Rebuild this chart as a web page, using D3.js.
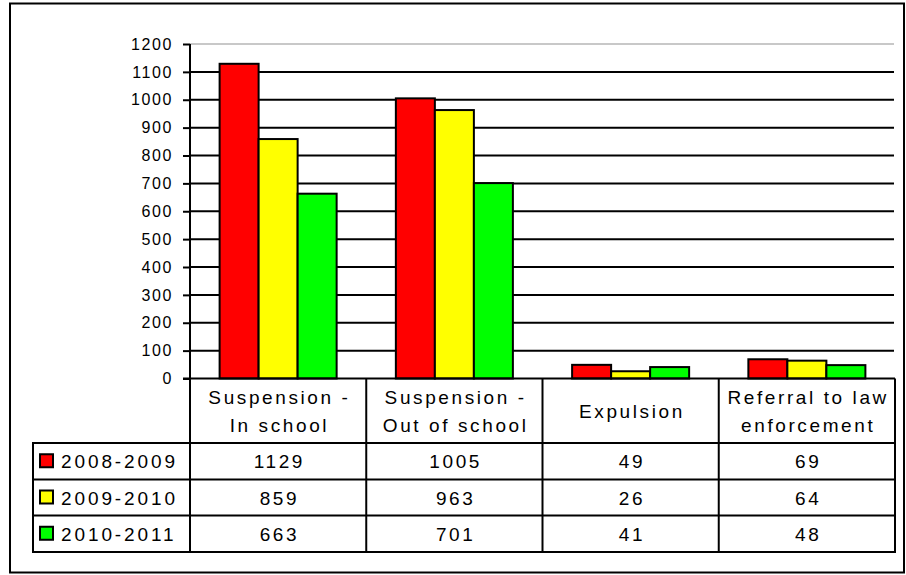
<!DOCTYPE html>
<html>
<head>
<meta charset="utf-8">
<script src="https://cdn.jsdelivr.net/npm/d3@7"></script>
<style>
  html, body { margin: 0; padding: 0; background: #fff; }
  svg { display: block; }
  text { font-family: "Liberation Sans", Arial, sans-serif; fill: #000; }
</style>
</head>
<body>
<div id="chart"></div>
<script>
// ---- data ----
const categories = [
  ["Suspension -", "In school"],
  ["Suspension -", "Out of school"],
  ["Expulsion"],
  ["Referral to law", "enforcement"]
];
const seriesNames = ["2008-2009", "2009-2010", "2010-2011"];
const seriesColors = ["#ff0000", "#ffff00", "#00ff00"];
const values2008 = [1129, 1005, 49, 69];
const values2009 = [859, 963, 26, 64];
const values2010 = [663, 701, 41, 48];
const yTicks = [0, 100, 200, 300, 400, 500, 600, 700, 800, 900, 1000, 1100, 1200];

const seriesValues = [values2008, values2009, values2010];

// ---- layout ----
const W = 906, H = 575;
const plotLeft = 190, plotRight = 895, plotTop = 44, plotBottom = 378.5;
const headerBottom = 443;
const rowLines = [443, 479.5, 515.5, 552];
const legendLeft = 33;

const svg = d3.select("#chart").append("svg").attr("width", W).attr("height", H);

// outer frame
svg.append("rect").attr("x", 10).attr("y", 3.5).attr("width", 894).attr("height", 569)
  .attr("fill", "none").attr("stroke", "#000").attr("stroke-width", 2);

const catIdx = d3.range(categories.length);
const x = d3.scaleBand().domain(catIdx).range([plotLeft, plotRight]);
const y = d3.scaleLinear().domain([0, 1200]).range([plotBottom, plotTop]);

const groupW = x.bandwidth() * 0.664;
const xs = d3.scaleBand().domain(d3.range(seriesNames.length))
  .range([(x.bandwidth() - groupW) / 2, (x.bandwidth() + groupW) / 2]);

// gridlines
svg.append("g").selectAll("line").data(yTicks.filter(t => t > 0)).join("line")
  .attr("x1", plotLeft).attr("x2", plotRight - 1)
  .attr("y1", d => y(d)).attr("y2", d => y(d))
  .attr("stroke", d => d === 1200 ? "#c8c8c8" : "#000")
  .attr("stroke-width", 2);

// bars
const groups = svg.append("g").selectAll("g").data(catIdx).join("g")
  .attr("transform", i => `translate(${x(i)},0)`);
groups.selectAll("rect").data(i => seriesValues.map((vals, s) => ({s, v: vals[i]}))).join("rect")
  .attr("x", d => xs(d.s))
  .attr("width", xs.bandwidth())
  .attr("y", d => y(d.v))
  .attr("height", d => y(0) - y(d.v))
  .attr("fill", d => seriesColors[d.s])
  .attr("stroke", "#000").attr("stroke-width", 2);

// y axis
const yAxis = d3.axisLeft(y).tickValues(yTicks).tickFormat(d3.format("d")).tickSize(7).tickPadding(10);
const ya = svg.append("g").attr("transform", `translate(${plotLeft},0)`).call(yAxis);
ya.select(".domain").remove();
ya.selectAll(".tick line").attr("stroke", "#000").attr("stroke-width", 2);
ya.selectAll(".tick text").attr("font-size", 16).attr("letter-spacing", "1.6px")
  .style("font-family", '"Liberation Sans", Arial, sans-serif').attr("fill", "#000");
svg.append("line").attr("x1", plotLeft).attr("x2", plotLeft)
  .attr("y1", plotTop).attr("y2", rowLines[3] + 1)
  .attr("stroke", "#000").attr("stroke-width", 2);

// ---- data table ----
const table = svg.append("g");
const ls = 2.6, fs = 19;
const lineStyle = sel => sel.attr("stroke", "#000").attr("stroke-width", 2);

// x axis / header top line
table.append("line").attr("x1", plotLeft - 7).attr("x2", plotRight).attr("y1", plotBottom).attr("y2", plotBottom).call(lineStyle);
// horizontal row lines
rowLines.forEach(ry => {
  table.append("line").attr("x1", legendLeft).attr("x2", plotRight).attr("y1", ry).attr("y2", ry).call(lineStyle);
});
// vertical lines
catIdx.forEach(i => {
  table.append("line").attr("x1", x(i) + x.bandwidth()).attr("x2", x(i) + x.bandwidth())
    .attr("y1", plotBottom).attr("y2", rowLines[3] + 1).call(lineStyle);
});
table.append("line").attr("x1", legendLeft).attr("x2", legendLeft)
  .attr("y1", rowLines[0] - 1).attr("y2", rowLines[3] + 1).call(lineStyle);

// header text
catIdx.forEach(i => {
  const cx = x(i) + x.bandwidth() / 2;
  const lines = categories[i];
  const midY = (plotBottom + headerBottom) / 2 + 7;
  lines.forEach((t, k) => {
    table.append("text")
      .attr("x", cx + ls / 2)
      .attr("y", midY + (k - (lines.length - 1) / 2) * 28)
      .attr("text-anchor", "middle")
      .attr("font-size", fs).attr("letter-spacing", ls + "px")
      .text(t);
  });
});

// rows
seriesNames.forEach((name, s) => {
  const top = rowLines[s], bot = rowLines[s + 1];
  const cy = (top + bot) / 2 + 7;
  table.append("rect").attr("x", 40).attr("y", (top + bot) / 2 - 7).attr("width", 13).attr("height", 13)
    .attr("fill", seriesColors[s]).attr("stroke", "#000").attr("stroke-width", 2);
  table.append("text").attr("x", 61).attr("y", cy).attr("font-size", fs).attr("letter-spacing", "2.9px").text(name);
  catIdx.forEach(i => {
    table.append("text")
      .attr("x", x(i) + x.bandwidth() / 2 + ls / 2)
      .attr("y", cy)
      .attr("text-anchor", "middle")
      .attr("font-size", fs).attr("letter-spacing", ls + "px")
      .text(seriesValues[s][i]);
  });
});
</script>
</body>
</html>
